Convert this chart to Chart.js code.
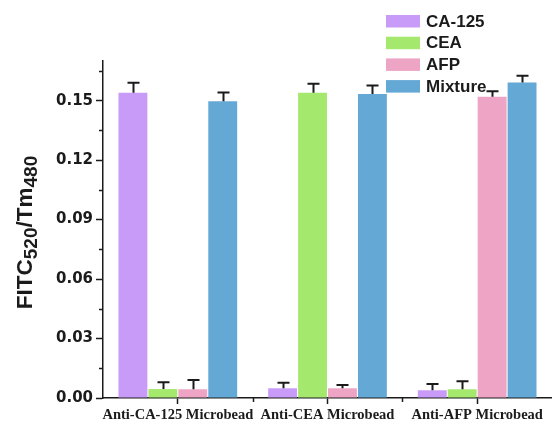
<!DOCTYPE html>
<html>
<head>
<meta charset="utf-8">
<script src="https://cdn.jsdelivr.net/npm/chart.js@4/dist/chart.umd.min.js"></script>
<style>
  html, body { margin: 0; padding: 0; background: #fff; }
  #wrap { width: 552px; height: 422px; position: relative; }
</style>
</head>
<body>
<div id="wrap"><canvas id="c" width="552" height="422"></canvas></div>
<script>
// Microbead groups on the x axis
const categories = ['Anti-CA-125 Microbead', 'Anti-CEA Microbead', 'Anti-AFP Microbead'];

// Mean FITC520/Tm480 ratio per target, with upper error (SD)
const ca125 = [0.1540, 0.0049, 0.0039];
const ca125Err = [0.0050, 0.0028, 0.0032];
const cea = [0.0045, 0.1540, 0.0044];
const ceaErr = [0.0034, 0.0045, 0.0040];
const afp = [0.0044, 0.0049, 0.1520];
const afpErr = [0.0047, 0.0017, 0.0027];
const mixture = [0.1497, 0.1534, 0.1592];
const mixtureErr = [0.0044, 0.0042, 0.0034];

const seriesNames = ['CA-125', 'CEA', 'AFP', 'Mixture'];
const seriesColors = ['#c99bf8', '#a4e86e', '#eea4c4', '#64a8d5'];

// y axis: major labelled ticks and minor unlabelled ticks
const yMax = 0.17;
const yMajorTicks = [0, 0.03, 0.06, 0.09, 0.12, 0.15];
const yMinorTicks = [0.015, 0.045, 0.075, 0.105, 0.135, 0.165];

const ink = '#1b1b1b';

// Upward error bars with caps
const errorBars = {
  id: 'errorBars',
  afterDatasetsDraw(chart) {
    const ctx = chart.ctx;
    const y = chart.scales.y;
    ctx.save();
    ctx.strokeStyle = ink;
    ctx.lineWidth = 2;
    chart.data.datasets.forEach((ds, i) => {
      const meta = chart.getDatasetMeta(i);
      meta.data.forEach((bar, j) => {
        const top = y.getPixelForValue(ds.data[j] + ds.errors[j]);
        const x = Math.round(bar.x) + 0.5;
        ctx.beginPath();
        ctx.moveTo(x, bar.y);
        ctx.lineTo(x, top);
        ctx.moveTo(x - 6, top);
        ctx.lineTo(x + 6, top);
        ctx.stroke();
      });
    });
    ctx.restore();
  }
};

// Minor ticks, legend and the subscripted y-axis title
const decorations = {
  id: 'decorations',
  afterDraw(chart) {
    const ctx = chart.ctx;
    const { x, y } = chart.scales;
    const area = chart.chartArea;
    ctx.save();
    ctx.strokeStyle = ink;
    ctx.lineWidth = 1.5;
    // y minor ticks
    yMinorTicks.forEach(v => {
      const py = Math.round(y.getPixelForValue(v)) + 0.5;
      ctx.beginPath();
      ctx.moveTo(area.left, py);
      ctx.lineTo(area.left - 4, py);
      ctx.stroke();
    });
    // x minor ticks at category boundaries
    for (let i = 1; i < categories.length; i++) {
      const px = Math.round((x.getPixelForValue(i - 1) + x.getPixelForValue(i)) / 2) + 0.5;
      ctx.beginPath();
      ctx.moveTo(px, area.bottom);
      ctx.lineTo(px, area.bottom + 4);
      ctx.stroke();
    }

    // legend
    ctx.font = 'bold 17px "Liberation Sans", Arial, sans-serif';
    ctx.textBaseline = 'middle';
    ctx.textAlign = 'left';
    seriesNames.forEach((name, i) => {
      const top = 15 + i * 21.7;
      ctx.fillStyle = seriesColors[i];
      ctx.fillRect(386, top, 34, 12.5);
      ctx.fillStyle = ink;
      ctx.fillText(name, 426, top + 7);
    });

    // y-axis title: FITC520/Tm480 with subscripts
    const parts = [
      { t: 'FITC', sub: false },
      { t: '520', sub: true },
      { t: '/Tm', sub: false },
      { t: '480', sub: true }
    ];
    const mainFont = 'bold 22.5px "Liberation Sans", Arial, sans-serif';
    const subFont = 'bold 19px "Liberation Sans", Arial, sans-serif';
    let total = 0;
    parts.forEach(p => {
      ctx.font = p.sub ? subFont : mainFont;
      p.w = ctx.measureText(p.t).width;
      total += p.w;
    });
    ctx.translate(32, (area.top + area.bottom) / 2 + 3);
    ctx.rotate(-Math.PI / 2);
    ctx.textBaseline = 'alphabetic';
    ctx.fillStyle = ink;
    let cx = -total / 2;
    parts.forEach(p => {
      ctx.font = p.sub ? subFont : mainFont;
      ctx.fillText(p.t, cx, p.sub ? 5 : 0);
      cx += p.w;
    });
    ctx.restore();
  }
};

const datasets = [
  { values: ca125, errs: ca125Err },
  { values: cea, errs: ceaErr },
  { values: afp, errs: afpErr },
  { values: mixture, errs: mixtureErr }
].map((s, i) => ({
  label: seriesNames[i],
  data: s.values,
  errors: s.errs,
  backgroundColor: seriesColors[i],
  borderWidth: 0,
  categoryPercentage: 0.8,
  barPercentage: 0.965
}));

new Chart(document.getElementById('c'), {
  type: 'bar',
  data: { labels: categories, datasets },
  options: {
    responsive: false,
    animation: false,
    events: [],
    layout: { padding: { top: 61, right: 0, left: 0, bottom: 0 } },
    plugins: {
      legend: { display: false },
      tooltip: { enabled: false }
    },
    scales: {
      x: {
        offset: true,
        grid: {
          display: true,
          drawOnChartArea: false,
          drawTicks: true,
          tickLength: 6,
          tickColor: ink,
          tickWidth: 1.5,
          offset: false
        },
        border: { display: true, color: ink, width: 1.5 },
        ticks: {
          color: ink,
          padding: 3,
          maxRotation: 0,
          autoSkip: false,
          font: { family: '"Liberation Serif", "Times New Roman", serif', size: 14.5, weight: 'bold' }
        },
        afterFit(scale) { scale.height = 24; }
      },
      y: {
        min: 0,
        max: yMax,
        afterBuildTicks(scale) {
          scale.ticks = yMajorTicks.map(v => ({ value: v }));
        },
        grid: {
          display: true,
          drawOnChartArea: false,
          drawTicks: true,
          tickLength: 7,
          tickColor: ink,
          tickWidth: 1.5
        },
        border: { display: true, color: ink, width: 1.5 },
        ticks: {
          color: ink,
          padding: 3,
          font: { family: '"DejaVu Sans", sans-serif', size: 15, weight: 'bold' },
          callback: v => Number(v).toFixed(2)
        },
        afterFit(scale) { scale.width = 103; }
      }
    }
  },
  plugins: [errorBars, decorations]
});
</script>
</body>
</html>
